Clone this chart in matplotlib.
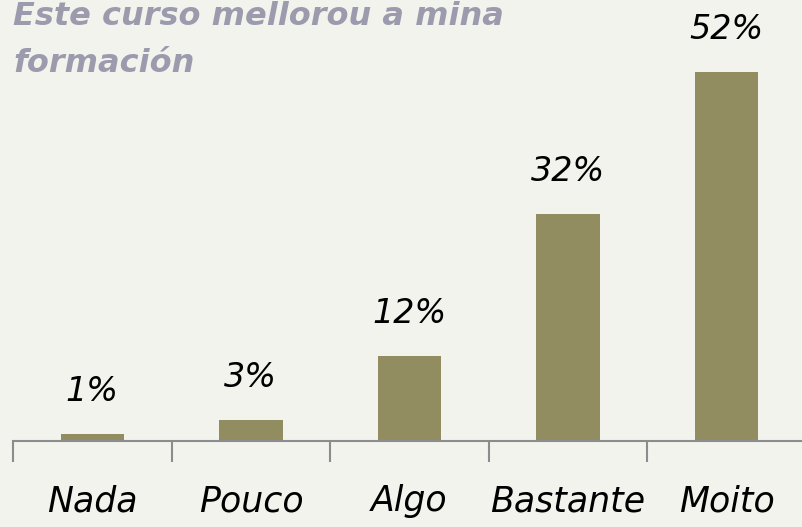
import matplotlib
matplotlib.use("Agg")
import matplotlib.pyplot as plt

categories = ["Nada", "Pouco", "Algo", "Bastante", "Moito"]
values = [1, 3, 12, 32, 52]
labels = ["1%", "3%", "12%", "32%", "52%"]
title_lines = ["Este curso mellorou a mina", "formación"]

bg = "#F3F3EE"
bar_color = "#928D60"
axis_color = "#8C8C8C"
title_color = "#9C9BAD"

fig = plt.figure(figsize=(8.02, 5.27), dpi=100, facecolor=bg)
ax = fig.add_axes([13 / 802, (527 - 441) / 527, 793 / 802, 441 / 527])
ax.set_facecolor(bg)

x = list(range(len(categories)))
ax.bar(x, values, width=0.40, color=bar_color, zorder=2)
ax.set_xlim(-0.5, len(categories) - 0.5)
ax.set_ylim(0, 441 / 7.1)

for sp in ["top", "right", "left"]:
    ax.spines[sp].set_visible(False)
ax.spines["bottom"].set_color(axis_color)
ax.spines["bottom"].set_linewidth(1.5)
ax.set_yticks([])
ax.set_xticks([i - 0.5 for i in range(len(categories) + 1)])
ax.set_xticklabels([])
ax.tick_params(axis="x", length=15, width=1.5, color=axis_color, direction="out")

for i, (v, lab) in enumerate(zip(values, labels)):
    ax.annotate(lab, (i, v), xytext=(0, 42), textcoords="offset pixels",
                ha="center", va="center", fontsize=24, style="italic",
                family="DejaVu Sans", color="black", fontweight="light")

for i, c in enumerate(categories):
    ax.annotate(c, (i, 0), xycoords=("data", "axes fraction"), xytext=(0, -60),
                textcoords="offset pixels", ha="center", va="center",
                fontsize=25, style="italic", color="black")

for line, base in zip(title_lines, [25, 72]):
    fig.text(13 / 802, 1 - base / 527, line, ha="left", va="baseline",
             fontsize=23, fontweight="bold", style="italic", color=title_color)

fig.savefig("out.png", dpi=100, facecolor=bg)
